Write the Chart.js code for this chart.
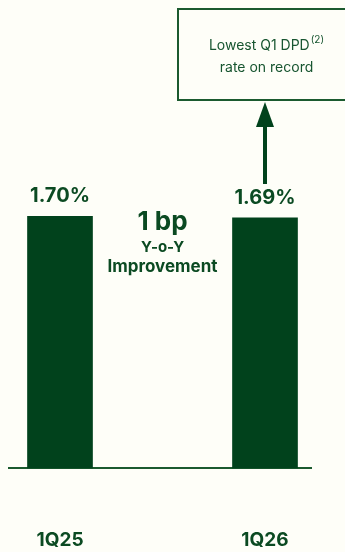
<!DOCTYPE html>
<html>
<head>
<meta charset="utf-8">
<script src="https://cdn.jsdelivr.net/npm/chart.js@4/dist/chart.umd.min.js"></script>
<style>
  html, body { margin: 0; padding: 0; background: #fefef8; }
  #wrap { width: 345px; height: 552px; position: relative; }
</style>
</head>
<body>
<div id="wrap"><canvas id="dpd"></canvas></div>
<script>
  // DPD rate by quarter
  const quarters = ['1Q25', '1Q26'];
  const dpdRate = [1.70, 1.69];
  const rateLabels = ['1.70%', '1.69%'];
  const changeLines = ['1 bp', 'Y-o-Y', 'Improvement'];
  const noteLines = ['Lowest Q1 DPD', 'rate on record'];
  const noteSup = '(2)';

  const GREEN = '#01421c';
  const TEXT = '#0b4a22';
  const FONT = 'Inter, "Noto Sans", sans-serif';

  // value labels above each bar
  const valueLabels = {
    id: 'valueLabels',
    afterDatasetsDraw(chart) {
      const ctx = chart.ctx;
      const bars = chart.getDatasetMeta(0).data;
      ctx.save();
      ctx.fillStyle = TEXT;
      ctx.font = '700 20px ' + FONT;
      ctx.textAlign = 'center';
      ctx.textBaseline = 'bottom';
      bars.forEach((bar, i) => {
        ctx.fillText(rateLabels[i], bar.x, bar.y - 10);
      });
      ctx.restore();
    }
  };

  // change note between the bars, and the callout box with arrow
  const callouts = {
    id: 'callouts',
    afterDraw(chart) {
      const ctx = chart.ctx;
      const x = chart.scales.x;
      const bars = chart.getDatasetMeta(0).data;
      const mid = x.getPixelForValue(0.5);
      const top = bars[0].y;

      ctx.save();
      ctx.fillStyle = TEXT;
      ctx.textAlign = 'center';
      ctx.textBaseline = 'alphabetic';
      ctx.font = '700 26px ' + FONT;
      ctx.fillText(changeLines[0], mid, top + 14);
      ctx.font = '700 15px ' + FONT;
      ctx.fillText(changeLines[1], mid, top + 36);
      ctx.font = '700 17px ' + FONT;
      ctx.fillText(changeLines[2], mid, top + 56);

      // callout box
      const ax = bars[1].x;
      const boxL = 178, boxT = 9, boxB = 100;
      ctx.strokeStyle = '#1b5a2f';
      ctx.lineWidth = 2;
      ctx.strokeRect(boxL, boxT, chart.width + 10 - boxL, boxB - boxT);

      const cx = (boxL + chart.width + 10) / 2;
      ctx.fillStyle = '#175530';
      ctx.font = '400 14px ' + FONT;
      const w1 = ctx.measureText(noteLines[0]).width;
      ctx.font = '400 10px ' + FONT;
      const ws = ctx.measureText(noteSup).width;
      const start = cx - (w1 + ws + 1) / 2;
      ctx.textAlign = 'left';
      ctx.textBaseline = 'middle';
      ctx.font = '400 14px ' + FONT;
      ctx.fillText(noteLines[0], start, 46);
      ctx.font = '400 10px ' + FONT;
      ctx.fillText(noteSup, start + w1 + 1, 40);
      ctx.textAlign = 'center';
      ctx.font = '400 14px ' + FONT;
      ctx.fillText(noteLines[1], cx, 68);

      // arrow from the 1Q26 label up to the box
      ctx.fillStyle = GREEN;
      ctx.fillRect(ax - 2, 126, 4, 58);
      ctx.beginPath();
      ctx.moveTo(ax, boxB + 2);
      ctx.lineTo(ax - 9, 127);
      ctx.lineTo(ax + 9, 127);
      ctx.closePath();
      ctx.fill();
      ctx.restore();
    }
  };

  new Chart(document.getElementById('dpd'), {
    type: 'bar',
    data: {
      datasets: [{
        data: dpdRate.map((v, i) => ({ x: i, y: v })),
        backgroundColor: GREEN,
        barThickness: 65,
        clip: false
      }]
    },
    options: {
      responsive: true,
      maintainAspectRatio: false,
      animation: false,
      layout: { padding: { top: 172, left: 9, right: 34, bottom: 0 } },
      plugins: {
        legend: { display: false },
        tooltip: { enabled: false }
      },
      scales: {
        x: {
          type: 'linear',
          min: -0.2488,
          max: 1.2244,
          offset: false,
          bounds: 'data',
          grid: { display: false, drawTicks: false },
          border: { display: true, color: '#1b5a2f', width: 2 },
          afterBuildTicks: (scale) => {
            scale.ticks = quarters.map((_, i) => ({ value: i }));
          },
          afterFit: (scale) => {
            // labels sit well inside the axis, no side padding needed
            scale.height = 84;
            scale.paddingLeft = 0;
            scale.paddingRight = 0;
          },
          ticks: {
            padding: 61,
            color: TEXT,
            font: { family: FONT, size: 19, weight: '700' },
            callback: (v) => quarters[v]
          }
        },
        y: {
          display: false,
          min: 0,
          max: 2.0
        }
      }
    },
    plugins: [valueLabels, callouts]
  });
</script>
</body>
</html>
